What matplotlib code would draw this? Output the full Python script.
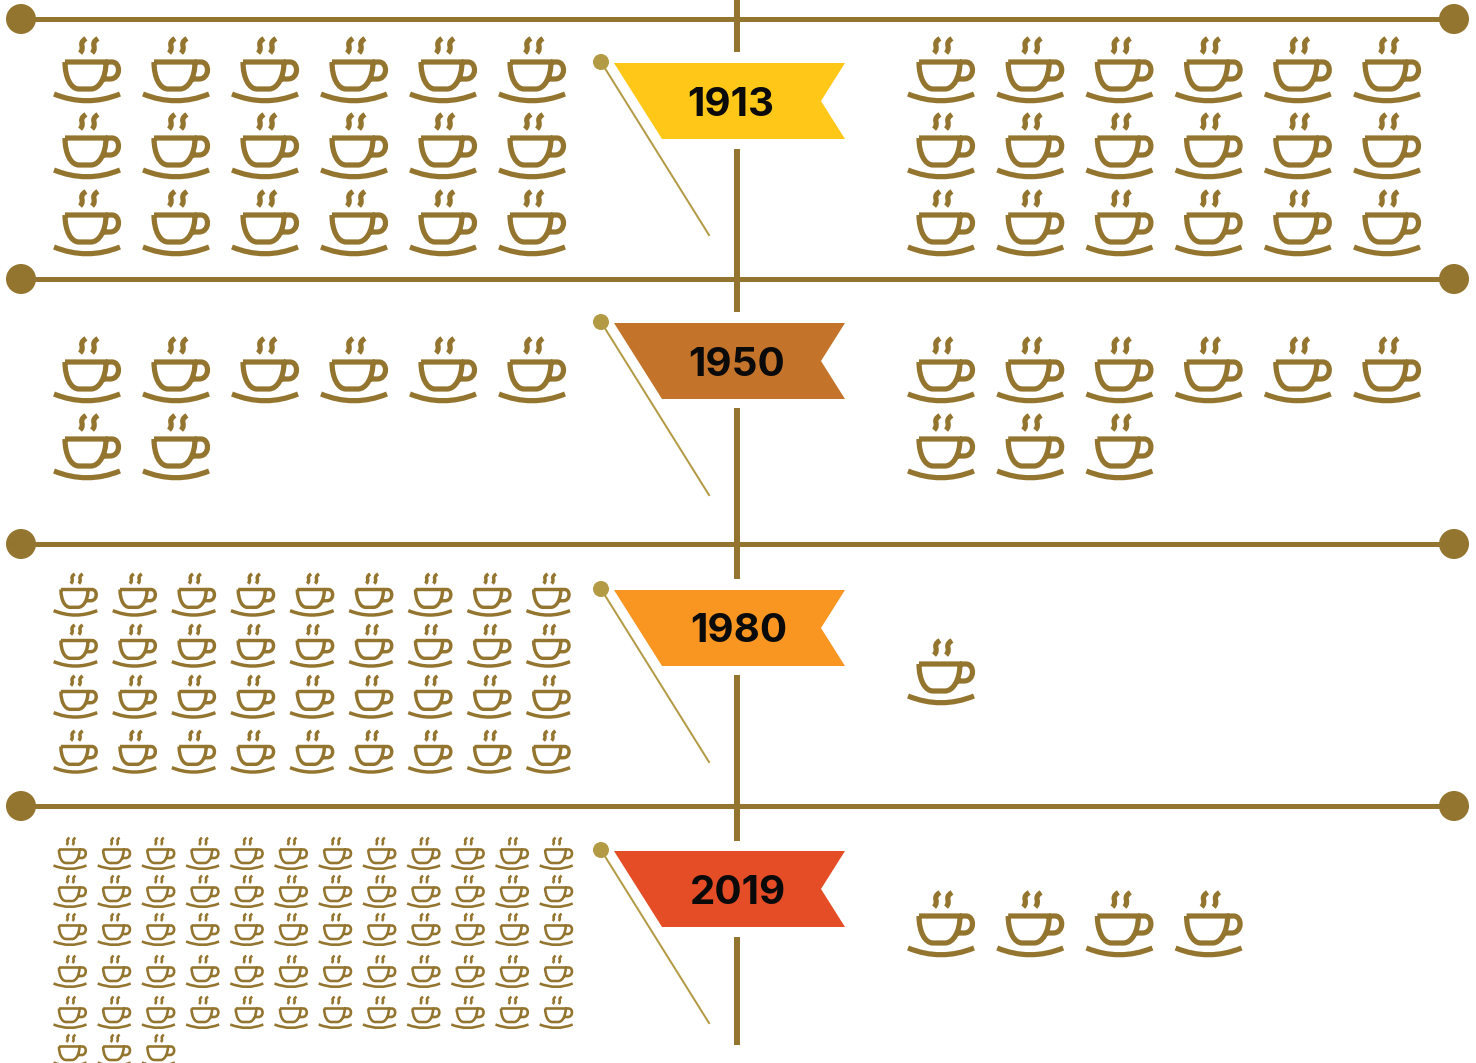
import matplotlib
matplotlib.use("Agg")
import matplotlib.pyplot as plt
from matplotlib.patches import Circle, PathPatch, Polygon
from matplotlib.path import Path

# datos: tazas a cada lado de la bandera
years = ["1913", "1950", "1980", "2019"]
left_cups = [18, 8, 36, 63]
right_cups = [18, 9, 1, 4]
flag_colors = ["#FFC717", "#C4742A", "#F99621", "#E44D26"]

BROWN = "#94752F"
GOLD = "#B39A45"
W, H = 1476, 1063

# layout de cada fila, en pixeles
rule_y = [19, 279, 544, 806]
flag_top = [63, 323, 590, 851]
text_x = [731, 737, 739, 738]
left_rows = [[37, 113, 190], [337, 414], [573, 624, 675, 730], [837, 875, 913, 955, 996, 1034]]
left_scale = [1.0, 1.0, 0.66, 0.50]
left_pitch = [89, 89, 59.1, 44.2]
left_cols = [6, 6, 9, 12]
right_rows = [[37, 113, 190], [337, 414], [639], [891]]


def cup_path(x0, y0, s):
    # taza dibujada en una caja de 68x66
    C3, C4, L, M = Path.CURVE3, Path.CURVE4, Path.LINETO, Path.MOVETO
    parts = [
        # platillo
        ([(1, 57), (34, 70.5), (67, 57)], [M, C3, C3]),
        # cuerpo
        ([(12, 25), (53, 25), (53, 41), (46, 52), (38, 52), (26, 52), (18, 52), (12, 41), (12, 25)],
         [M, L, C4, C4, C4, L, C4, C4, C4]),
        # asa
        ([(53, 25), (59, 25), (68, 25), (68, 42), (57, 42), (49, 42)], [M, L, C4, C4, C4, L]),
        # vapor
        ([(33, 1.5), (24, 7), (33, 10), (27, 16)], [M, C4, C4, C4]),
        ([(45, 1.5), (36, 7), (45, 10), (39, 16)], [M, C4, C4, C4]),
    ]
    verts, codes = [], []
    for pts, cc in parts:
        verts += [(x0 + px * s, y0 + py * s) for px, py in pts]
        codes += cc
    return Path(verts, codes)


def draw_cups(ax, count, x0, pitch, rows, cols, s):
    for i in range(count):
        r, c = divmod(i, cols)
        path = cup_path(x0 + c * pitch, rows[r], s)
        ax.add_patch(PathPatch(path, fc="none", ec=BROWN, lw=5.2 * s * 0.72, capstyle="butt", joinstyle="round", zorder=3))


fig = plt.figure(figsize=(W / 100, H / 100), dpi=100)
ax = fig.add_axes([0, 0, 1, 1])
ax.set_xlim(0, W)
ax.set_ylim(H, 0)
ax.axis("off")

# lineas horizontales con sus puntos
for y in rule_y:
    ax.plot([20, 1454], [y, y], color=BROWN, lw=5 * 0.72, solid_capstyle="butt", zorder=1)
    ax.add_patch(Circle((21, y), 15, fc=BROWN, ec="none", zorder=2))
    ax.add_patch(Circle((1454, y), 15, fc=BROWN, ec="none", zorder=2))

# eje vertical, cortado en cada bandera
for y1, y2 in [(0, 52), (149, 312), (408, 579), (675, 841), (937, 1045)]:
    ax.plot([737, 737], [y1, y2], color=BROWN, lw=6 * 0.72, solid_capstyle="butt", zorder=1)

for i, year in enumerate(years):
    top = flag_top[i]
    # asta
    ax.plot([601, 709], [top - 1, top + 172], color=GOLD, lw=2 * 0.72, zorder=2)
    ax.add_patch(Circle((601, top - 1), 8, fc=GOLD, ec="none", zorder=3))
    # bandera
    ax.add_patch(Polygon([(614, top), (845, top), (821, top + 38), (845, top + 76), (662, top + 76)],
                         closed=True, fc=flag_colors[i], ec="none", zorder=2))
    ax.text(text_x[i], top + 38, year, family="Inter", weight="bold", fontsize=29,
            color="#0A0A0A", ha="center", va="center_baseline", zorder=4)

    draw_cups(ax, left_cups[i], 53, left_pitch[i], left_rows[i], left_cols[i], left_scale[i])
    draw_cups(ax, right_cups[i], 907, 89.2, right_rows[i], 6, 1.0)

fig.savefig("out.png", dpi=100)
